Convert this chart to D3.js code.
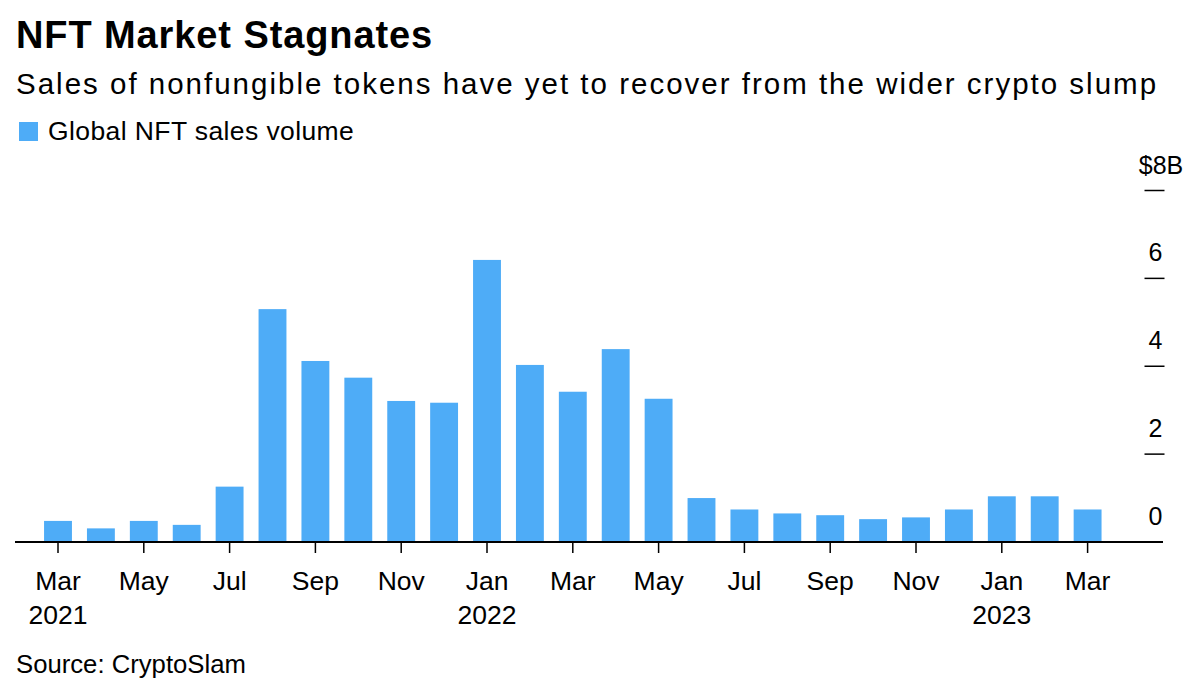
<!DOCTYPE html>
<html>
<head>
<meta charset="utf-8">
<script src="https://cdn.jsdelivr.net/npm/d3@7"></script>
<style>
  body { margin: 0; background: #fff; }
  svg { display: block; font-family: "Liberation Sans", Arial, Helvetica, sans-serif; }
  .title { font-weight: bold; font-size: 38px; letter-spacing: 0.9px; fill: #000; }
  .subtitle { font-size: 29.5px; letter-spacing: 2px; fill: #000; }
  .legend { font-size: 26.5px; letter-spacing: 0.4px; fill: #000; }
  .source { font-size: 25.7px; fill: #000; }
  .x.axis text { font-size: 26.5px; fill: #000; }
  .y-label { font-size: 25px; fill: #000; }
</style>
</head>
<body>
<div id="chart"></div>
<script>
// Data (billions of USD per month)
const months = [
  "2021-03", "2021-04", "2021-05", "2021-06", "2021-07", "2021-08", "2021-09",
  "2021-10", "2021-11", "2021-12", "2022-01", "2022-02", "2022-03", "2022-04",
  "2022-05", "2022-06", "2022-07", "2022-08", "2022-09", "2022-10", "2022-11",
  "2022-12", "2023-01", "2023-02", "2023-03"
];
const volume = [
  0.48, 0.31, 0.48, 0.39, 1.26, 5.30, 4.12,
  3.74, 3.21, 3.17, 6.42, 4.03, 3.42, 4.39,
  3.26, 1.00, 0.74, 0.65, 0.61, 0.52, 0.56,
  0.74, 1.04, 1.04, 0.74
];
const monthNames = ["Jan", "Feb", "Mar", "Apr", "May", "Jun", "Jul", "Aug", "Sep", "Oct", "Nov", "Dec"];
const tickMonths = months.filter((d, i) => i % 2 === 0);
const yearTicks = ["2021-03", "2022-01", "2023-01"];
const yearLabels = ["2021", "2022", "2023"];
const yTicks = [0, 2, 4, 6, 8];

const width = 1200, height = 699;
const barColor = "#4eacf7";

const svg = d3.select("#chart")
    .append("svg")
    .attr("width", width)
    .attr("height", height);

// Header
svg.append("text").attr("class", "title").attr("x", 16).attr("y", 48).text("NFT Market Stagnates");
svg.append("text").attr("class", "subtitle").attr("x", 16).attr("y", 94)
    .text("Sales of nonfungible tokens have yet to recover from the wider crypto slump");

svg.append("rect").attr("x", 19).attr("y", 122).attr("width", 19).attr("height", 19).attr("fill", barColor);
svg.append("text").attr("class", "legend").attr("x", 48).attr("y", 140).text("Global NFT sales volume");

// Scales
const step = 42.9;
const x = d3.scaleBand()
    .domain(months)
    .range([58 - step / 2, 58 - step / 2 + step * months.length])
    .paddingInner(0.35)
    .paddingOuter(0.175);

const y = d3.scaleLinear()
    .domain([0, 8])
    .range([542, 190.5]);

// Bars
svg.selectAll(".bar")
    .data(months)
    .enter().append("rect")
    .attr("class", "bar")
    .attr("x", d => x(d))
    .attr("width", x.bandwidth())
    .attr("y", (d, i) => y(volume[i]))
    .attr("height", (d, i) => y(0) - y(volume[i]))
    .attr("fill", barColor);

// Y axis on the right: short dash with the label above it
const yAxis = svg.append("g").attr("class", "y axis");
yAxis.selectAll(".y-tick")
    .data(yTicks.filter(d => d > 0))
    .enter().append("line")
    .attr("x1", 1144.5)
    .attr("x2", 1164.5)
    .attr("y1", d => y(d))
    .attr("y2", d => y(d))
    .attr("stroke", "#000")
    .attr("stroke-width", 1.5);

yAxis.selectAll(".y-label")
    .data(yTicks)
    .enter().append("text")
    .attr("class", "y-label")
    .attr("x", d => d === 8 ? 1161 : 1155.5)
    .attr("y", d => y(d) - 17)
    .attr("text-anchor", "middle")
    .text(d => d === 8 ? "$8B" : d);

// X axis
const xAxis = d3.axisBottom(x)
    .tickValues(tickMonths)
    .tickSize(11)
    .tickSizeOuter(0)
    .tickPadding(9)
    .tickFormat(d => monthNames[+d.slice(5) - 1]);

const gx = svg.append("g")
    .attr("class", "x axis")
    .attr("transform", "translate(0," + y(0) + ")")
    .call(xAxis);

gx.select(".domain").remove();
gx.selectAll(".tick line").attr("stroke", "#000").attr("stroke-width", 1.5);
gx.selectAll(".tick text").attr("font-family", null).attr("font-size", null).attr("dy", null).attr("y", 48);

gx.selectAll(".year")
    .data(yearTicks)
    .enter().append("text")
    .attr("class", "year")
    .attr("x", d => x(d) + x.bandwidth() / 2)
    .attr("y", 82)
    .attr("text-anchor", "middle")
    .text((d, i) => yearLabels[i]);

// Baseline
svg.append("line")
    .attr("x1", 15)
    .attr("x2", 1163)
    .attr("y1", y(0))
    .attr("y2", y(0))
    .attr("stroke", "#000")
    .attr("stroke-width", 2);

// Footer
svg.append("text").attr("class", "source").attr("x", 16).attr("y", 673).text("Source: CryptoSlam");
</script>
</body>
</html>
